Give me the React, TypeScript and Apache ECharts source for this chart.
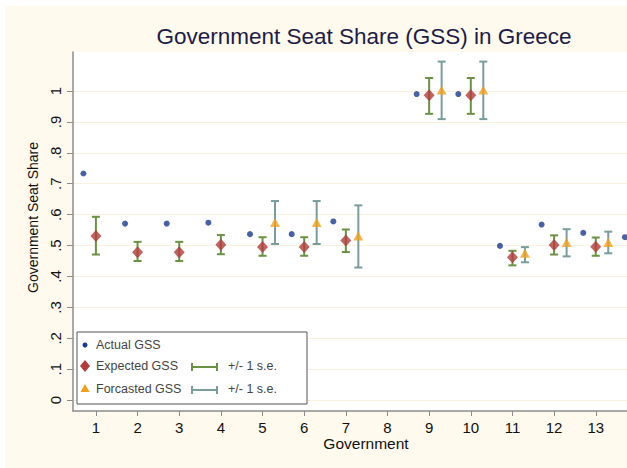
import React, { useEffect, useRef } from "react";
import * as echarts from "echarts";

const actualGov = [1, 2, 3, 4, 5, 6, 7, 9, 10, 11, 12, 13, 14];
const actualGSS = [0.733, 0.571, 0.571, 0.574, 0.537, 0.537, 0.578, 0.99, 0.99, 0.499, 0.568, 0.541, 0.527];

const expectedGov = [1, 2, 3, 4, 5, 6, 7, 9, 10, 11, 12, 13];
const expectedGSS = [0.531, 0.478, 0.478, 0.503, 0.495, 0.495, 0.516, 0.986, 0.986, 0.462, 0.502, 0.496];
const expectedLow = [0.471, 0.45, 0.45, 0.472, 0.467, 0.467, 0.479, 0.926, 0.926, 0.436, 0.471, 0.467];
const expectedHigh = [0.593, 0.512, 0.512, 0.534, 0.527, 0.527, 0.552, 1.042, 1.042, 0.483, 0.533, 0.526];

const forecastGov = [5, 6, 7, 9, 10, 11, 12, 13];
const forecastGSS = [0.575, 0.575, 0.531, 1.003, 1.003, 0.475, 0.51, 0.51];
const forecastLow = [0.505, 0.505, 0.429, 0.909, 0.909, 0.446, 0.465, 0.475];
const forecastHigh = [0.644, 0.644, 0.63, 1.095, 1.095, 0.495, 0.553, 0.545];

const xTicks = [1, 2, 3, 4, 5, 6, 7, 8, 9, 10, 11, 12, 13];
const yTicks = [0, 0.1, 0.2, 0.3, 0.4, 0.5, 0.6, 0.7, 0.8, 0.9, 1];

const OFFSET = 0.3;
const FONT = "'Liberation Sans', Arial, sans-serif";
const GREEN = "#6b9244";
const TEAL = "#7a9c9c";

function errorBar(color: string) {
  return (params: any, api: any) => {
    const x = api.value(0);
    const lo = api.coord([x, api.value(1)]);
    const hi = api.coord([x, api.value(2)]);
    const cap = 4;
    const style = { stroke: color, lineWidth: 2 };
    return {
      type: "group",
      children: [
        { type: "line", shape: { x1: lo[0], y1: lo[1], x2: hi[0], y2: hi[1] }, style },
        { type: "line", shape: { x1: lo[0] - cap, y1: lo[1], x2: lo[0] + cap, y2: lo[1] }, style },
        { type: "line", shape: { x1: hi[0] - cap, y1: hi[1], x2: hi[0] + cap, y2: hi[1] }, style },
      ],
    };
  };
}

export default function App() {
  const ref = useRef<HTMLDivElement>(null);
  useEffect(() => {
    if (!ref.current) return;
    const chart = echarts.init(ref.current, undefined, { renderer: "svg" });
    const lx = 72, ly = 326;
    const legendText = { fontFamily: FONT, fontSize: 12.5, fill: "#444", textVerticalAlign: "middle" };
    chart.setOption({
      animation: false,
      backgroundColor: "#fff9ee",
      grid: {
        left: 68,
        top: 46,
        right: 0,
        bottom: 57,
        show: true,
        backgroundColor: "#ffffff",
        borderWidth: 0,
      },
      xAxis: {
        type: "value",
        min: 0.45,
        max: 13.75,
        axisLine: { show: true, onZero: false, lineStyle: { color: "#8c8c8c", width: 1.5 } },
        axisTick: { show: true, length: 5, customValues: xTicks, lineStyle: { color: "#8c8c8c" } },
        axisLabel: {
          customValues: xTicks,
          fontFamily: FONT,
          fontSize: 15,
          color: "#111",
          margin: 9,
        },
        splitLine: { show: false },
      },
      yAxis: {
        type: "value",
        min: -0.035,
        max: 1.126,
        axisLine: { show: true, onZero: false, lineStyle: { color: "#8c8c8c", width: 1.5 } },
        axisTick: { show: true, length: 6, customValues: yTicks, lineStyle: { color: "#8c8c8c" } },
        axisLabel: {
          customValues: yTicks,
          rotate: 90,
          fontFamily: FONT,
          fontSize: 15,
          color: "#111",
          margin: 10,
          formatter: (v: number) => (v === 0 ? "0" : v >= 1 ? "1" : "." + Math.round(v * 10)),
        },
        splitLine: { show: true, lineStyle: { color: "#f9f1de", width: 1 } },
      },
      series: [
        {
          type: "custom",
          name: "Expected s.e.",
          renderItem: errorBar(GREEN),
          data: expectedGov.map((g, i) => [g, expectedLow[i], expectedHigh[i]]),
          z: 2,
        },
        {
          type: "custom",
          name: "Forecast s.e.",
          renderItem: errorBar(TEAL),
          data: forecastGov.map((g, i) => [g + OFFSET, forecastLow[i], forecastHigh[i]]),
          z: 2,
        },
        {
          type: "scatter",
          name: "Actual GSS",
          symbol: "circle",
          symbolSize: 6,
          clip: false,
          itemStyle: { color: "#1a3a8c" },
          data: actualGov.map((g, i) => [g - OFFSET, actualGSS[i]]),
          z: 3,
        },
        {
          type: "scatter",
          name: "Expected GSS",
          symbol: "diamond",
          symbolSize: [11, 12],
          itemStyle: { color: "#b03c3c" },
          data: expectedGov.map((g, i) => [g, expectedGSS[i]]),
          z: 4,
        },
        {
          type: "scatter",
          name: "Forcasted GSS",
          symbol: "triangle",
          symbolSize: [10, 9],
          itemStyle: { color: "#f0a020" },
          data: forecastGov.map((g, i) => [g + OFFSET, forecastGSS[i]]),
          z: 4,
        },
      ],
      graphic: [
        {
          type: "text",
          x: 359,
          y: 30,
          style: { text: "Government Seat Share (GSS) in Greece", fontFamily: FONT, fontSize: 22.5, fill: "#1c1c48", textAlign: "center", textVerticalAlign: "middle" },
        },
        {
          type: "text",
          x: 28,
          y: 211.5,
          rotation: Math.PI / 2,
          style: { text: "Government Seat Share", fontFamily: FONT, fontSize: 14, fill: "#111", textAlign: "center", textVerticalAlign: "middle" },
        },
        {
          type: "text",
          x: 361,
          y: 437,
          style: { text: "Government", fontFamily: FONT, fontSize: 15.5, fill: "#111", textAlign: "center", textVerticalAlign: "middle" },
        },
        {
          type: "rect",
          shape: { x: lx, y: ly, width: 230, height: 72 },
          style: { fill: "#ffffff", stroke: "#555", lineWidth: 1 },
          z: 10,
        },
        { type: "circle", shape: { cx: lx + 8, cy: ly + 13, r: 2.5 }, style: { fill: "#1a3a8c" }, z: 11 },
        {
          type: "polygon",
          shape: { points: [[lx + 8, ly + 28], [lx + 13, ly + 34], [lx + 8, ly + 40], [lx + 3, ly + 34]] },
          style: { fill: "#b03c3c" },
          z: 11,
        },
        {
          type: "polygon",
          shape: { points: [[lx + 8, ly + 52], [lx + 12.5, ly + 60], [lx + 3.5, ly + 60]] },
          style: { fill: "#f0a020" },
          z: 11,
        },
        { type: "text", x: lx + 19, y: ly + 13, style: { ...legendText, text: "Actual GSS" }, z: 11 },
        { type: "text", x: lx + 19, y: ly + 34, style: { ...legendText, text: "Expected GSS" }, z: 11 },
        { type: "text", x: lx + 19, y: ly + 57, style: { ...legendText, text: "Forcasted GSS" }, z: 11 },
        { type: "line", shape: { x1: lx + 115, y1: ly + 35, x2: lx + 140, y2: ly + 35 }, style: { stroke: GREEN, lineWidth: 2 }, z: 11 },
        { type: "line", shape: { x1: lx + 115, y1: ly + 31, x2: lx + 115, y2: ly + 39 }, style: { stroke: GREEN, lineWidth: 2 }, z: 11 },
        { type: "line", shape: { x1: lx + 140, y1: ly + 31, x2: lx + 140, y2: ly + 39 }, style: { stroke: GREEN, lineWidth: 2 }, z: 11 },
        { type: "line", shape: { x1: lx + 115, y1: ly + 58, x2: lx + 140, y2: ly + 58 }, style: { stroke: TEAL, lineWidth: 2 }, z: 11 },
        { type: "line", shape: { x1: lx + 115, y1: ly + 54, x2: lx + 115, y2: ly + 62 }, style: { stroke: TEAL, lineWidth: 2 }, z: 11 },
        { type: "line", shape: { x1: lx + 140, y1: ly + 54, x2: lx + 140, y2: ly + 62 }, style: { stroke: TEAL, lineWidth: 2 }, z: 11 },
        { type: "text", x: lx + 151, y: ly + 34, style: { ...legendText, text: "+/- 1 s.e." }, z: 11 },
        { type: "text", x: lx + 151, y: ly + 57, style: { ...legendText, text: "+/- 1 s.e." }, z: 11 },
      ],
    });
    return () => chart.dispose();
  }, []);
  return (
    <div style={{ position: "fixed", left: 0, top: 0, width: 627, height: 468, background: "#ffffff", paddingLeft: 5, paddingTop: 6, boxSizing: "border-box" }}>
      <div ref={ref} style={{ width: 622, height: 462 }} />
    </div>
  );
}
